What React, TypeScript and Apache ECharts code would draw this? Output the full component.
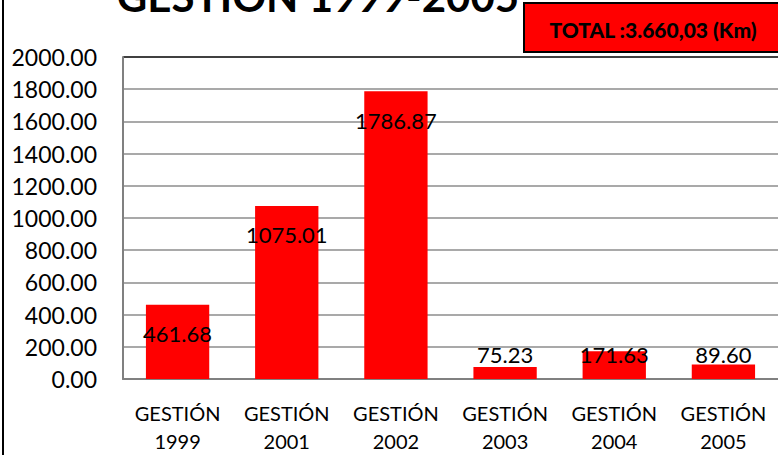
import React, { useEffect, useRef } from "react";
import * as echarts from "echarts";

const categories = ["GESTIÓN\n1999", "GESTIÓN\n2001", "GESTIÓN\n2002", "GESTIÓN\n2003", "GESTIÓN\n2004", "GESTIÓN\n2005"];
const values = [461.68, 1075.01, 1786.87, 75.23, 171.63, 89.6];
const titleText = "GESTIÓN 1999-2005";
const totalText = "TOTAL :3.660,03 (Km)";
const yMax = 2000;
const yInterval = 200;

const FONT = "Lato, 'Open Sans', sans-serif";

export default function App() {
  const ref = useRef<HTMLDivElement>(null);
  useEffect(() => {
    if (!ref.current) return;
    const chart = echarts.init(ref.current, null, { renderer: "svg" });
    const splitColors = Array.from({ length: yMax / yInterval + 1 }, (_, i) =>
      i === yMax / yInterval ? "#000000" : "#8c8c8c"
    );
    chart.setOption({
      animation: false,
      backgroundColor: "#ffffff",
      grid: { left: 123, right: 0, top: 57, bottom: 72 },
      xAxis: {
        type: "category",
        data: categories,
        axisLine: { lineStyle: { color: "#808080", width: 2 } },
        axisTick: { show: false },
        axisLabel: {
          color: "#000",
          fontFamily: FONT,
          fontSize: 20,
          lineHeight: 28,
          margin: 20,
          interval: 0,
        },
      },
      yAxis: {
        type: "value",
        min: 0,
        max: yMax,
        interval: yInterval,
        axisLine: { show: true, lineStyle: { color: "#808080", width: 2 } },
        axisTick: { show: false },
        splitLine: { lineStyle: { color: splitColors, width: 1.5 } },
        axisLabel: {
          color: "#000",
          fontFamily: FONT,
          fontSize: 23,
          margin: 26,
          formatter: (v: number) => v.toFixed(2),
        },
      },
      series: [
        {
          type: "bar",
          barCategoryGap: "42%",
          itemStyle: { color: "#ff0000" },
          data: values.map((v) => ({
            value: v,
            label:
              v > 300
                ? { position: "insideTop", distance: 18 }
                : { position: "insideBottom", distance: 14 },
          })),
          label: {
            show: true,
            color: "#000",
            fontFamily: FONT,
            fontSize: 22,
            formatter: (p: any) => Number(p.value).toFixed(2),
          },
        },
      ],
      graphic: [
        {
          type: "line",
          shape: { x1: 3, y1: 0, x2: 3, y2: 455 },
          style: { stroke: "#000", lineWidth: 2 },
        },
        {
          type: "text",
          x: 318,
          y: 17,
          style: {
            text: titleText,
            fontFamily: FONT,
            fontWeight: "bold",
            fontSize: 42,
            fill: "#000",
            align: "center",
            verticalAlign: "bottom",
          },
        },
        {
          type: "rect",
          shape: { x: 524, y: 3, width: 260, height: 49 },
          style: { fill: "#ff0000", stroke: "#000", lineWidth: 2 },
        },
        {
          type: "text",
          x: 653,
          y: 29,
          style: {
            text: totalText,
            fontFamily: FONT,
            fontWeight: 900,
            fontSize: 21,
            fill: "#000",
            align: "center",
            verticalAlign: "middle",
          },
        },
      ],
    });
    return () => chart.dispose();
  }, []);
  return <div ref={ref} style={{ width: 778, height: 455, position: "absolute", left: 0, top: 0 }} />;
}
